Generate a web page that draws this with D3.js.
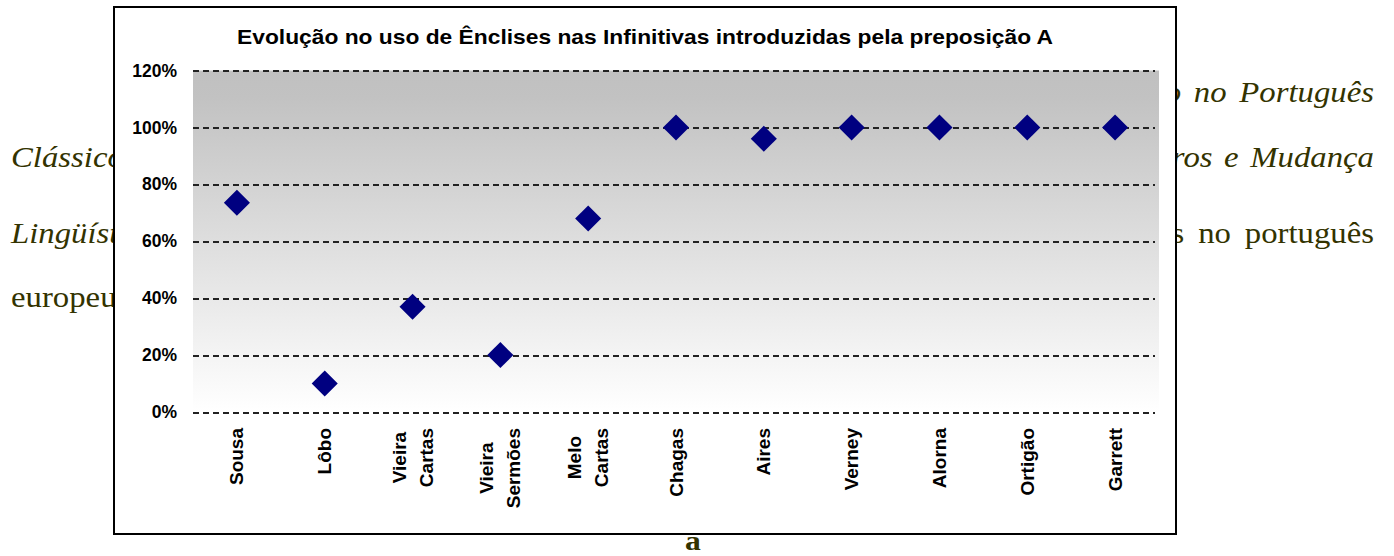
<!DOCTYPE html>
<html><head><meta charset="utf-8">
<script src="https://cdn.jsdelivr.net/npm/d3@7"></script>
<style>html,body{margin:0;padding:0;background:#fff;overflow:hidden}</style>
</head><body>
<svg id="c" width="1394" height="556"></svg>
<script>
// ---- data ----
const categories = ["Sousa","Lôbo","Vieira\nCartas","Vieira\nSermões","Melo\nCartas","Chagas","Aires","Verney","Alorna","Ortigão","Garrett"];
const values = [0.735,0.10,0.37,0.20,0.68,1.00,0.96,1.00,1.00,1.00,1.00];
const yTicks = [0,0.2,0.4,0.6,0.8,1.0,1.2];
const title = "Evolução no uso de Ênclises nas Infinitivas introduzidas pela preposição A";
// surrounding document text (visible fragments beside the chart)
const docLeft = ["Clássico", "Lingüíst", "europeu"];
const docRight = ["o no Português", "tros e Mudança", "s no português"];
const docBottom = "a";

// ---- layout ----
const svg = d3.select("#c");
const box = {x:114, y:7, w:1062, h:527};
const plot = {l:193, r:1159, t:70.5, b:412};
const ink = "#333300";
const serif = "'Liberation Serif','Times New Roman',serif";
const sans = "'Liberation Sans',Arial,sans-serif";
const stretch = 1.13;

const defs = svg.append("defs");
defs.append("clipPath").attr("id","clipL").append("rect")
  .attr("x",0).attr("y",0).attr("width",box.x-1).attr("height",556);
defs.append("clipPath").attr("id","clipR").append("rect")
  .attr("x",box.x+box.w+1).attr("y",0).attr("width",1394-(box.x+box.w+1)).attr("height",556);

// document text
const gl = svg.append("g").attr("clip-path","url(#clipL)");
const leftLay = [{y:167, italic:true},{y:243, italic:true},{y:307, italic:false}];
docLeft.forEach((t,i)=>{
  gl.append("text").attr("transform",`translate(11,${leftLay[i].y}) scale(${stretch},1)`)
    .attr("font-family",serif).attr("font-size",29)
    .attr("font-style",leftLay[i].italic?"italic":"normal")
    .attr("fill",ink).text(t);
});
const gr = svg.append("g").attr("clip-path","url(#clipR)");
const rightLay = [{y:102, italic:true, ws:4},{y:167, italic:true, ws:3},{y:243, italic:false, ws:5}];
docRight.forEach((t,i)=>{
  gr.append("text").attr("transform",`translate(1374,${rightLay[i].y}) scale(${stretch},1)`)
    .attr("text-anchor","end")
    .attr("font-family",serif).attr("font-size",29)
    .attr("font-style",rightLay[i].italic?"italic":"normal")
    .attr("word-spacing",rightLay[i].ws)
    .attr("fill",ink).text(t);
});
svg.append("text").attr("transform",`translate(693,550) scale(${stretch},1)`).attr("text-anchor","middle")
  .attr("font-family",serif).attr("font-size",28).attr("font-weight","bold")
  .attr("fill",ink).text(docBottom);

// chart box
svg.append("rect").attr("x",box.x).attr("y",box.y).attr("width",box.w).attr("height",box.h)
  .attr("fill","#fff").attr("stroke","#000").attr("stroke-width",2);

// gradient
const g = defs.append("linearGradient").attr("id","bg").attr("x1",0).attr("y1",0).attr("x2",0).attr("y2",1);
g.append("stop").attr("offset","0%").attr("stop-color","#c0c0c0");
g.append("stop").attr("offset","8%").attr("stop-color","#c2c2c2");
g.append("stop").attr("offset","100%").attr("stop-color","#ffffff");

const x = d3.scalePoint().domain(categories).range([plot.l, plot.r]).padding(0.5);
const y = d3.scaleLinear().domain([0,1.2]).range([plot.b, plot.t]);

svg.append("rect").attr("x",plot.l).attr("y",y(1.2)).attr("width",plot.r-plot.l).attr("height",y(0)-y(1.2))
  .attr("fill","url(#bg)");

// gridlines + y labels via axis
const yAxis = d3.axisLeft(y).tickValues(yTicks).tickFormat(d3.format(".0%"))
  .tickSize(-(plot.r-4-plot.l)).tickPadding(16);
const ya = svg.append("g").attr("transform",`translate(${plot.l},0)`).call(yAxis);
ya.select(".domain").remove();
ya.selectAll(".tick line").attr("stroke","#222").attr("stroke-width",2).attr("stroke-dasharray","6,4")
  .attr("shape-rendering","crispEdges");
ya.selectAll(".tick text").attr("font-family",sans).attr("font-weight","bold").attr("font-size",17.5)
  .attr("fill","#000").attr("x",-16);

// x labels
const xl = svg.append("g");
categories.forEach(c=>{
  const lines = c.split("\n");
  const grp = xl.append("g").attr("transform",`translate(${x(c)},428) rotate(-90)`);
  const ts = lines.map((ln,i)=> grp.append("text")
    .attr("font-family",sans).attr("font-weight","bold").attr("font-size",19)
    .attr("fill","#000").attr("text-anchor","middle").attr("dominant-baseline","central")
    .attr("y",(i-(lines.length-1)/2)*27).text(ln));
  const maxL = d3.max(ts, t=>t.node().getComputedTextLength());
  ts.forEach(t=>t.attr("x",-maxL/2));
});

// title
svg.append("text").attr("x",box.x+box.w/2).attr("y",44).attr("text-anchor","middle")
  .attr("font-family",sans).attr("font-weight","bold").attr("font-size",20.5)
  .attr("textLength",816).attr("lengthAdjust","spacingAndGlyphs")
  .attr("fill","#000").text(title);

// markers
const sym = d3.symbol().type(d3.symbolSquare).size(340);
svg.append("g").selectAll("path").data(values).join("path")
  .attr("d",sym)
  .attr("transform",(d,i)=>`translate(${x(categories[i])},${y(d)}) rotate(45)`)
  .attr("fill","#000080");
</script>
</body></html>
